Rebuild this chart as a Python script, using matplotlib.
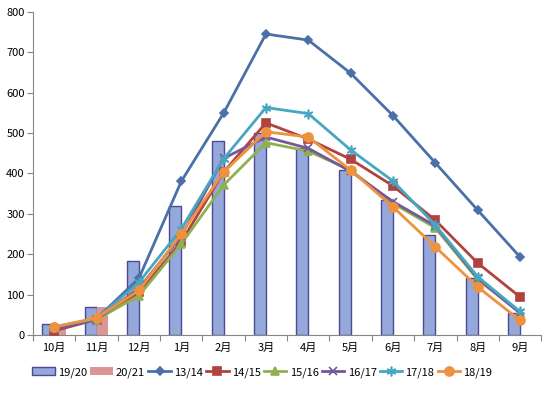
import numpy as np
import matplotlib.pyplot as plt

plt.rcParams['font.family'] = ['Noto Sans CJK SC', 'DejaVu Sans']

months = ['10月', '11月', '12月', '1月', '2月', '3月', '4月', '5月', '6月', '7月', '8月', '9月']

# bar series
s1920 = [27, 70, 182, 320, 480, 500, 462, 408, 333, 248, 141, 54]
s2021 = [25, 68]

# line series
s1314 = [15, 40, 140, 380, 549, 745, 730, 648, 543, 426, 309, 193]
s1415 = [10, 38, 105, 230, 403, 525, 485, 435, 369, 284, 178, 94]
s1516 = [18, 38, 97, 225, 371, 476, 455, 408, 326, 265, 137, 55]
s1617 = [15, 38, 115, 245, 437, 490, 462, 405, 330, 270, 140, 54]
s1718 = [20, 40, 130, 262, 436, 563, 548, 458, 381, 272, 144, 58]
s1819 = [20, 42, 110, 250, 403, 503, 490, 408, 317, 218, 119, 36]

fig = plt.figure(figsize=(5.5, 3.94), dpi=100)
ax = fig.add_axes([0.06, 0.150, 0.924, 0.820])

x = np.arange(len(months))
w = 0.28
b1 = ax.bar(x - w / 2, s1920, w, color='#95A8DB', edgecolor='#4B4B93', lw=1, label='19/20', zorder=2)
b2 = ax.bar(x[:len(s2021)] + w / 2, s2021, w, color='#D99694', label='20/21', zorder=2)

lines = [
    ('13/14', s1314, '#4A70A8', 'D', 4.5),
    ('14/15', s1415, '#B0433F', 's', 6),
    ('15/16', s1516, '#8FB050', '^', 6),
    ('16/17', s1617, '#76589A', 'x', 5.5),
    ('17/18', s1718, '#45A7C0', (6, 2, 0), 7),
    ('18/19', s1819, '#F0913F', 'o', 6.5),
]
handles = [b1, b2]
for name, vals, col, mk, ms in lines:
    ln, = ax.plot(x, vals, color=col, lw=2, marker=mk, ms=ms, mew=1.2,
                  mec=col, mfc=col, label=name, zorder=3)
    handles.append(ln)

ax.set_xlim(-0.5, 11.5)
ax.set_ylim(0, 800)
ax.set_yticks(range(0, 801, 100))
ax.set_xticks(np.arange(-0.5, 12, 1))
ax.set_xticklabels([])
ax.set_xticks(x, minor=True)
ax.set_xticklabels(months, minor=True)
ax.tick_params(axis='x', which='minor', length=0, pad=6, labelsize=8)
ax.tick_params(axis='x', which='major', length=4, color='#868686')
ax.tick_params(axis='y', length=4, color='#868686', labelsize=8, pad=2)

for s in ['top', 'right']:
    ax.spines[s].set_visible(False)
for s in ['left', 'bottom']:
    ax.spines[s].set_color('#868686')

fig.legend(handles=handles, labels=[h.get_label() for h in handles],
           loc='center', bbox_to_anchor=(0.477, 0.055), ncol=8, frameon=False,
           fontsize=8, handlelength=2.0, handletextpad=0.3, columnspacing=0.3)

fig.savefig('out.png', dpi=100)
